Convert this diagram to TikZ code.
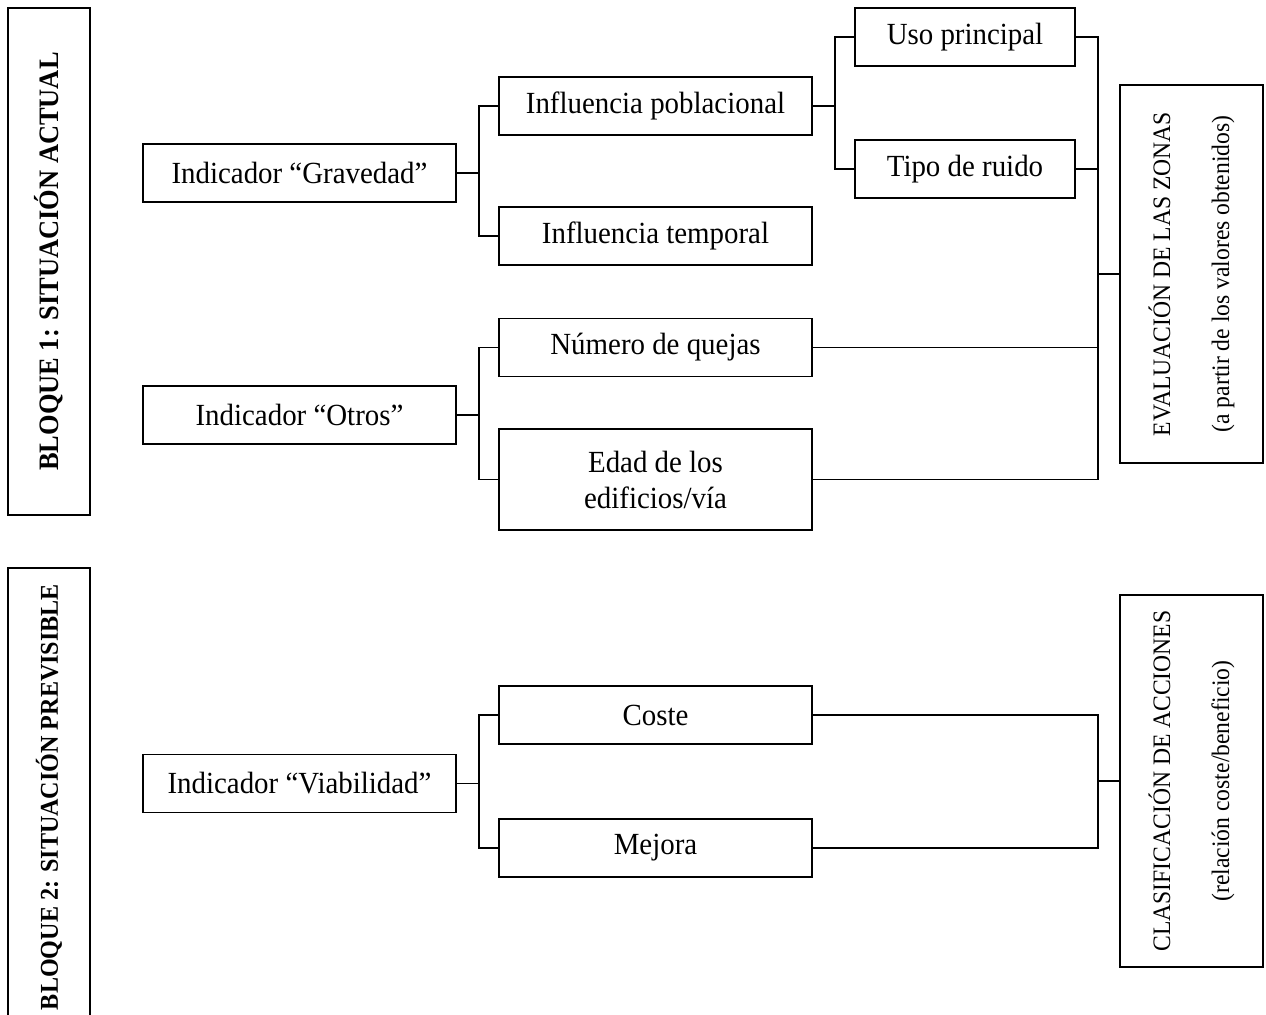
\documentclass[tikz,border=0pt]{standalone}
\usepackage{fontspec}
\setmainfont{Liberation Serif}[FakeStretch=0.94]
\usepackage{tikz}
\tikzstyle{caja} = [draw, line width=1.1pt, rectangle, inner sep=0pt, align=center, minimum height=1.16cm, font=\fontsize{17.5}{20.5}\selectfont]
\tikzstyle{ancha} = [caja, minimum width=6.26cm]
\tikzstyle{corta} = [caja, minimum width=4.4cm]
\tikzstyle{resultado} = [draw, line width=1.1pt, rectangle, rotate=90, inner sep=0pt, align=center, minimum height=2.86cm, font=\fontsize{14.3}{33.6}\selectfont]
\tikzstyle{bloque} = [draw, line width=1.1pt, rectangle, rotate=90, inner sep=0pt, align=center, minimum height=1.64cm]
\tikzstyle{linea} = [line width=1.1pt]

\begin{document}
\begin{tikzpicture}[x=0.02cm, y=-0.02cm]
        \useasboundingbox (0,0) rectangle (1266,1014);

        % Bloques
        \node[bloque, minimum width=10.14cm, font=\fontsize{16}{20}\selectfont\bfseries] (bloque1) at (49,261.5) {BLOQUE 1: SITUACIÓN ACTUAL};
        \node[bloque, minimum width=9.16cm, font=\fontsize{14.6}{20}\selectfont\bfseries] (bloque2) at (49,797) {BLOQUE 2: SITUACIÓN PREVISIBLE};

        % Indicadores
        \node[ancha] (grav) at (299.5,173) {Indicador “Gravedad”};
        \node[ancha] (otros) at (299.5,415) {Indicador “Otros”};
        \node[ancha] (viab) at (299.5,783.5) {Indicador “Viabilidad”};

        % Segundo nivel
        \node[ancha] (pobl) at (655.5,106) {Influencia poblacional};
        \node[ancha] (temp) at (655.5,236) {Influencia temporal};
        \node[ancha] (quejas) at (655.5,347.5) {Número de quejas};
        \node[ancha, minimum height=2.02cm] (edad) at (655.5,479.5) {Edad de los\\edificios/vía};
        \node[ancha] (coste) at (655.5,715) {Coste};
        \node[ancha] (mejora) at (655.5,848) {Mejora};

        % Tercer nivel
        \node[corta] (uso) at (965,37) {Uso principal};
        \node[corta] (ruido) at (965,169) {Tipo de ruido};

        % Resultados
        \node[resultado, minimum width=7.56cm] (evalua) at (1191.5,274) {EVALUACIÓN DE LAS ZONAS\\(a partir de los valores obtenidos)};
        \node[resultado, minimum width=7.44cm] (clasif) at (1191.5,781) {CLASIFICACIÓN DE ACCIONES\\(relación coste/beneficio)};

        \coordinate (junta1) at (1098,274);
        \coordinate (junta2) at (1098,781);

        \draw[linea] (grav.east) -- ++(22,0) |- (pobl.west);
        \draw[linea] (grav.east) -- ++(22,0) |- (temp.west);
        \draw[linea] (pobl.east) -- ++(22,0) |- (uso.west);
        \draw[linea] (pobl.east) -- ++(22,0) |- (ruido.west);
        \draw[linea] (otros.east) -- ++(22,0) |- (quejas.west);
        \draw[linea] (otros.east) -- ++(22,0) |- (edad.west);
        \draw[linea] (viab.east) -- ++(22,0) |- (coste.west);
        \draw[linea] (viab.east) -- ++(22,0) |- (mejora.west);

        \draw[linea] (uso.east) -| (junta1);
        \draw[linea] (ruido.east) -| (junta1);
        \draw[linea] (quejas.east) -| (junta1);
        \draw[linea] (edad.east) -| (junta1);
        \draw[linea] (junta1) -- (evalua.north);

        \draw[linea] (coste.east) -| (junta2);
        \draw[linea] (mejora.east) -| (junta2);
        \draw[linea] (junta2) -- (clasif.north);

\end{tikzpicture}
\end{document}
